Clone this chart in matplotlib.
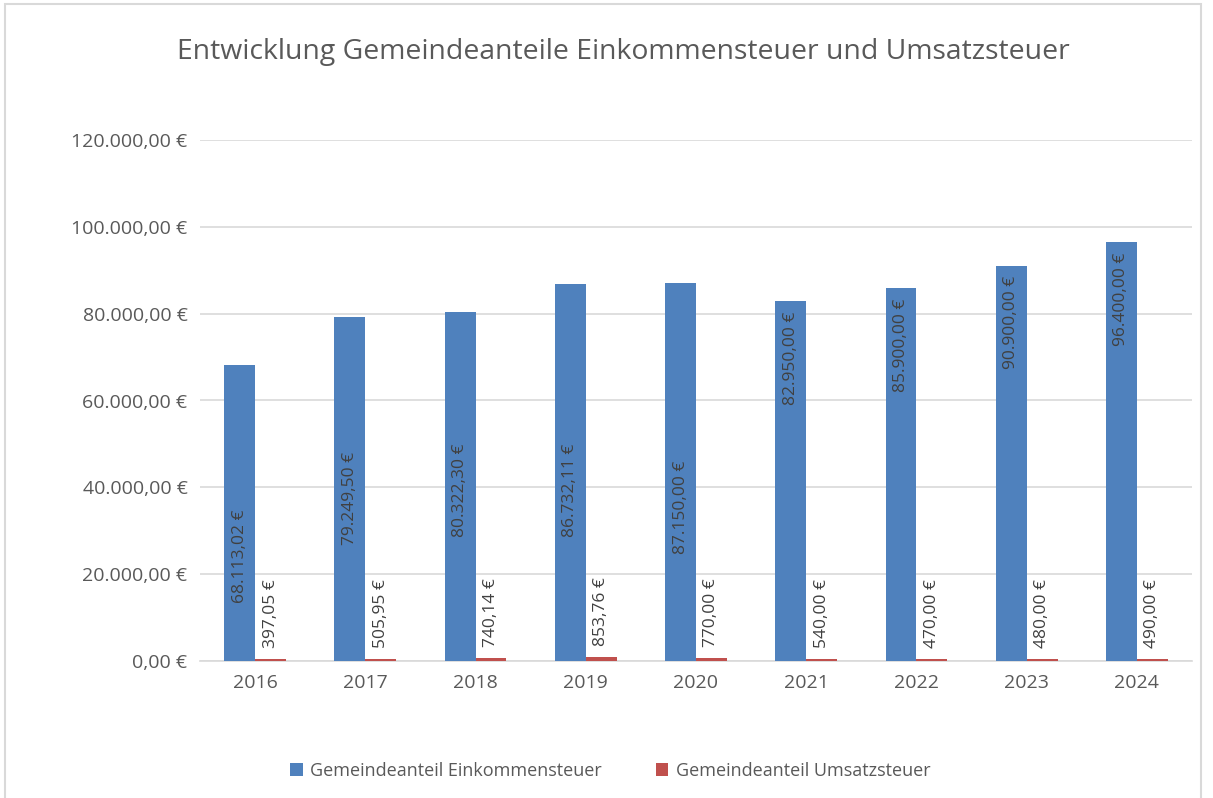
"""
Entwicklung Gemeindeanteile Einkommensteuer und Umsatzsteuer
Grouped bar chart, Excel-style
"""

import numpy as np
import matplotlib.pyplot as plt
from matplotlib.patches import Rectangle

plt.rcParams['font.family'] = ['Open Sans', 'DejaVu Sans']

years = ["2016", "2017", "2018", "2019", "2020", "2021", "2022", "2023", "2024"]
einkommensteuer = [68113.02, 79249.50, 80322.30, 86732.11, 87150.00,
                   82950.00, 85900.00, 90900.00, 96400.00]
umsatzsteuer = [397.05, 505.95, 740.14, 853.76, 770.00,
                540.00, 470.00, 480.00, 490.00]
# label centres for the blue bars (moved by hand in the original)
ek_label_y = [24200, 37500, 39400, 39200, 35500, 69800, 72800, 77900, 83200]

BLUE = "#4F81BD"
RED = "#C0504D"
GRAY = "#595959"


def euro(v):
    s = f"{v:,.2f}"
    s = s.replace(",", "X").replace(".", ",").replace("X", ".")
    return s + " €"


fig = plt.figure(figsize=(12.13, 7.98), dpi=100)
ax = fig.add_axes([200 / 1213, 1 - 661 / 798, 992 / 1213, 521 / 798])

x = np.arange(len(years))
w = 0.28
ax.bar(x - w / 2, einkommensteuer, w, color=BLUE, label="Gemeindeanteil Einkommensteuer", zorder=3)
ax.bar(x + w / 2, umsatzsteuer, w, color=RED, label="Gemeindeanteil Umsatzsteuer", zorder=3)

for i in range(len(years)):
    ax.text(x[i] - w / 2, ek_label_y[i], euro(einkommensteuer[i]), rotation=90,
            ha="center", va="center", fontsize=12.5, color="#404040", zorder=4)
    ax.annotate(euro(umsatzsteuer[i]), (x[i] + w / 2, umsatzsteuer[i]),
                xytext=(0, 8), textcoords="offset points", rotation=90,
                ha="center", va="bottom", fontsize=12.5, color="#404040", zorder=4)

ax.set_xlim(-0.5, len(years) - 0.5)
ax.set_ylim(0, 120000)
ax.set_yticks(np.arange(0, 120001, 20000))
ax.set_yticklabels([euro(v) for v in np.arange(0, 120001, 20000)])
ax.set_xticks(x)
ax.set_xticklabels(years)
ax.tick_params(axis="both", length=0, labelsize=14, colors=GRAY)
ax.tick_params(axis="y", pad=9)
ax.tick_params(axis="x", pad=9)
ax.grid(axis="y", color="#D9D9D9", linewidth=1.2, zorder=0)
for side in ["top", "right", "left"]:
    ax.spines[side].set_visible(False)
ax.spines["bottom"].set_color("#D9D9D9")
ax.spines["bottom"].set_linewidth(1.2)

fig.text(623 / 1213, 1 - 52 / 798, "Entwicklung Gemeindeanteile Einkommensteuer und Umsatzsteuer",
         ha="center", va="center", fontsize=20.4, color=GRAY)

fig.legend(loc="center", bbox_to_anchor=(610 / 1213, 1 - 771 / 798), ncol=2, frameon=False,
           fontsize=13, handlelength=0.7, handleheight=0.7, columnspacing=3.0,
           handletextpad=0.4, labelcolor=GRAY)

# chart frame
fig.add_artist(Rectangle((5 / 1213, -0.01), 1196 / 1213, 1 - 4 / 798 + 0.01,
                         transform=fig.transFigure, fill=False, edgecolor="#D9D9D9", linewidth=1.5))

fig.savefig("out.png", dpi=100)
